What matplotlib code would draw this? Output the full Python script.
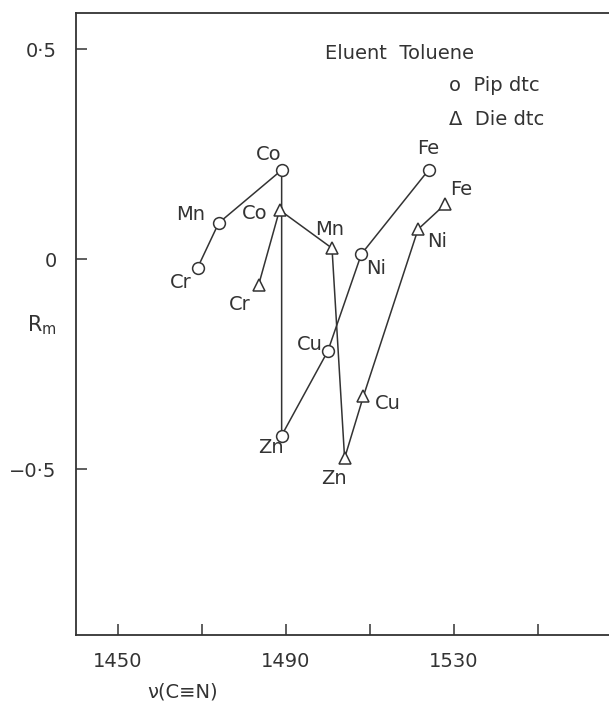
import matplotlib.pyplot as plt

# Rm vs nu(C-N), eluent toluene
metals_pip = ['Cr', 'Mn', 'Co', 'Zn', 'Cu', 'Ni', 'Fe']
nu_pip = [1469, 1474, 1489, 1489, 1500, 1508, 1524]
rm_pip = [-0.02, 0.086, 0.212, -0.42, -0.219, 0.012, 0.212]

metals_die = ['Cr', 'Co', 'Mn', 'Zn', 'Cu', 'Ni', 'Fe']
nu_die = [1483.5, 1488.5, 1501, 1504, 1508.5, 1521.5, 1528]
rm_die = [-0.062, 0.117, 0.026, -0.474, -0.326, 0.071, 0.131]

xticks = [1450, 1490, 1530]
xticks_minor = [1470, 1510, 1550]
yticks = [0.5, 0, -0.5]
ytick_labels = ['0\u00b75', '0', '\u22120\u00b75']

plt.rcParams['font.family'] = ['Liberation Sans Narrow', 'DejaVu Sans']
ink = '#333333'

fig = plt.figure(figsize=(6.09, 7.14), dpi=100)
ax = fig.add_axes([76 / 609, 79 / 714, 1 - 76 / 609, (635 - 13) / 714])

ax.plot(nu_pip, rm_pip, color=ink, lw=1.1, marker='o', ms=8.5,
        mfc='white', mec=ink, mew=1.1)
ax.plot(nu_die, rm_die, color=ink, lw=1.1, marker='^', ms=8.5,
        mfc='white', mec=ink, mew=1.1)

# label offsets in pixels
off_pip = {'Cr': (-17, -15), 'Mn': (-28, 8), 'Co': (-13, 16), 'Zn': (-11, -12),
           'Cu': (-18, 7), 'Ni': (15, -14), 'Fe': (0, 22)}
off_die = {'Cr': (-19, -19), 'Co': (-25, -4), 'Mn': (-2, 19), 'Zn': (-11, -20),
           'Cu': (24, -7), 'Ni': (19, -12), 'Fe': (16, 15)}

for m, x, y in zip(metals_pip, nu_pip, rm_pip):
    ax.annotate(m, (x, y), xytext=off_pip[m], textcoords='offset pixels',
                ha='center', va='center', fontsize=14, color=ink)
for m, x, y in zip(metals_die, nu_die, rm_die):
    ax.annotate(m, (x, y), xytext=off_die[m], textcoords='offset pixels',
                ha='center', va='center', fontsize=14, color=ink)

ax.set_xlim(1440, 1567)
ax.set_ylim(-0.895, 0.586)
ax.set_xticks(xticks)
ax.set_xticks(xticks_minor, minor=True)
ax.set_yticks(yticks)
ax.set_yticklabels(ytick_labels)
ax.tick_params(axis='both', which='both', direction='in', length=8,
               width=1.1, color=ink, labelsize=14, labelcolor=ink)
ax.tick_params(axis='x', pad=12)
ax.tick_params(axis='y', pad=14)
ax.spines['right'].set_visible(False)
for s in ['left', 'bottom', 'top']:
    ax.spines[s].set_linewidth(1.3)
    ax.spines[s].set_color(ink)

# key
ax.text(0.467, 0.935, 'Eluent  Toluene', transform=ax.transAxes,
        fontsize=14, color=ink, va='center')
ax.text(0.70, 0.883, 'o  Pip dtc', transform=ax.transAxes,
        fontsize=14, color=ink, va='center')
ax.text(0.70, 0.828, '\u0394  Die dtc', transform=ax.transAxes,
        fontsize=14, color=ink, va='center')

fig.text(42 / 609, 1 - 325 / 714, 'R$_\\mathregular{m}$', fontsize=15,
         color=ink, ha='center', va='center')
fig.text(183 / 609, 1 - 692 / 714, '\u03bd(C\u2261N)', fontsize=14,
         color=ink, ha='center', va='center')

fig.savefig('out.png', dpi=100)
